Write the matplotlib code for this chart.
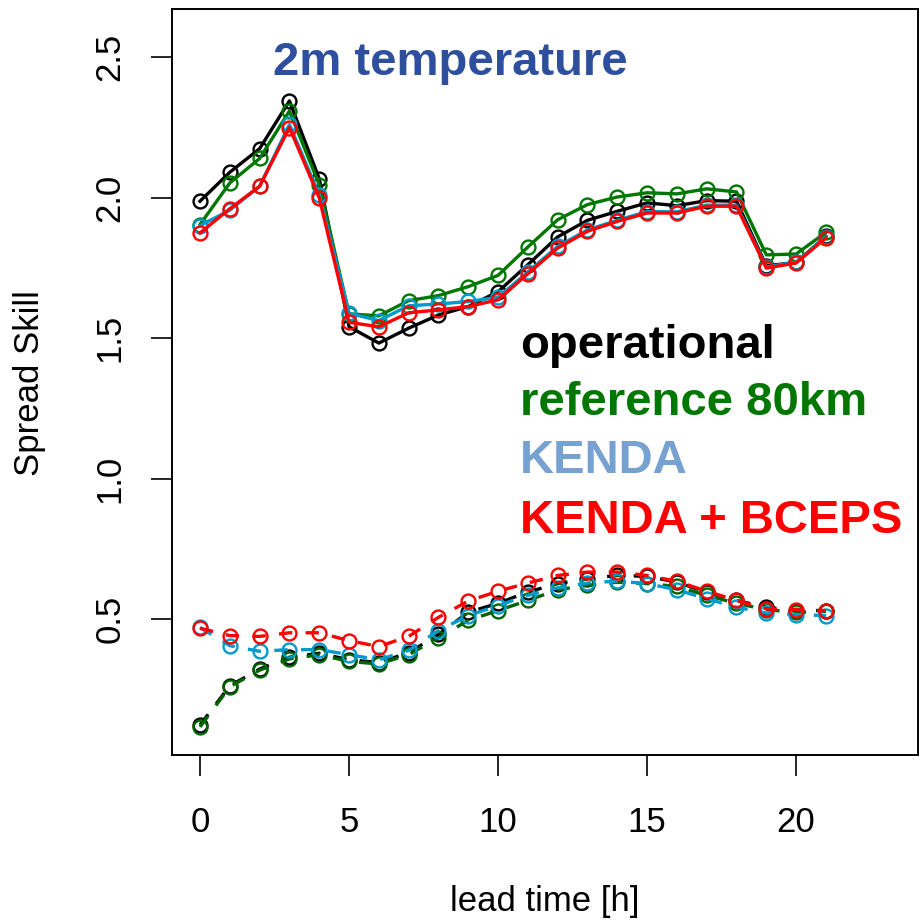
import numpy as np
import matplotlib
matplotlib.use("Agg")
import matplotlib.pyplot as plt

plt.rcParams['font.family'] = ['Liberation Sans', 'DejaVu Sans']

# lead time [h]
lead = list(range(22))

# spread skill, upper curves (solid)
op_hi = [1.987, 2.090, 2.174, 2.344, 2.067, 1.540, 1.482, 1.535, 1.582, 1.612, 1.665,
         1.761, 1.860, 1.919, 1.951, 1.981, 1.971, 1.989, 1.987, 1.757, 1.769, 1.862]
ref_hi = [1.904, 2.052, 2.139, 2.308, 2.046, 1.586, 1.579, 1.633, 1.651, 1.683, 1.723,
          1.824, 1.921, 1.975, 2.002, 2.017, 2.013, 2.031, 2.020, 1.796, 1.799, 1.876]
kenda_hi = [1.900, 1.955, 2.040, 2.260, 2.010, 1.588, 1.562, 1.615, 1.621, 1.630, 1.645,
            1.735, 1.826, 1.885, 1.919, 1.950, 1.949, 1.973, 1.973, 1.753, 1.770, 1.860]
bceps_hi = [1.874, 1.960, 2.040, 2.249, 1.999, 1.556, 1.540, 1.590, 1.600, 1.612, 1.636,
            1.729, 1.820, 1.880, 1.915, 1.945, 1.945, 1.969, 1.969, 1.749, 1.767, 1.856]

# lower curves (dashed)
op_lo = [0.123, 0.262, 0.322, 0.364, 0.378, 0.355, 0.345, 0.380, 0.445, 0.524, 0.556,
         0.596, 0.626, 0.643, 0.655, 0.652, 0.631, 0.596, 0.566, 0.542, 0.530, 0.530]
ref_lo = [0.116, 0.259, 0.318, 0.358, 0.373, 0.349, 0.340, 0.373, 0.433, 0.495, 0.530,
          0.566, 0.604, 0.620, 0.631, 0.626, 0.616, 0.584, 0.556, 0.533, 0.524, 0.527]
kenda_lo = [0.470, 0.405, 0.385, 0.391, 0.391, 0.373, 0.355, 0.388, 0.459, 0.512, 0.548,
            0.584, 0.611, 0.628, 0.635, 0.626, 0.604, 0.572, 0.542, 0.521, 0.516, 0.512]
bceps_lo = [0.467, 0.441, 0.438, 0.451, 0.451, 0.423, 0.402, 0.438, 0.506, 0.564, 0.599,
            0.628, 0.655, 0.667, 0.667, 0.655, 0.634, 0.599, 0.566, 0.536, 0.533, 0.530]

names = ["operational", "reference 80km", "KENDA", "KENDA + BCEPS"]
line_cols = ["black", "#007700", "#009ACD", "#FF0000"]
lo_cols = ["black", "#006400", "#009ACD", "#FF0000"]
text_cols = ["black", "#007700", "#77A1D0", "#FF0000"]

fig = plt.figure(figsize=(9.21, 9.22), dpi=100)
ax = fig.add_axes([172 / 921, 1 - 755 / 922, 746 / 921, 746 / 922])

his = [op_hi, ref_hi, kenda_hi, bceps_hi]
los = [op_lo, ref_lo, kenda_lo, bceps_lo]
for hi, lo, c, cl in zip(his, los, line_cols, lo_cols):
    ax.plot(lead, hi, color=c, lw=2.4, marker='o', ms=10, mfc='none', mew=1.7)
    ax.plot(lead, lo, color=cl, lw=2.4, ls=(0, (4, 4)), marker='o', ms=10,
            mfc='none', mew=1.7)

ax.set_xlim(-0.94, 24.09)
ax.set_ylim(0.016, 2.671)
ax.set_xticks([0, 5, 10, 15, 20])
ax.set_yticks([0.5, 1.0, 1.5, 2.0, 2.5])
ax.set_yticklabels(["0.5", "1.0", "1.5", "2.0", "2.5"], rotation=90, va='center')
ax.tick_params(axis='both', length=15, width=1.2, labelsize=25)
ax.tick_params(axis='x', pad=22)
ax.tick_params(axis='y', pad=18)
for s in ax.spines.values():
    s.set_linewidth(1.4)

ax.text(2.45, 2.436, "2m temperature", color="#2D4F9E", fontsize=34,
        fontweight='bold', va='baseline')
ybase = [1.429, 1.225, 1.018, 0.807]
for n, c, yb in zip(names, text_cols, ybase):
    ax.text(10.74, yb, n, color=c, fontsize=34, fontweight='bold', va='baseline')

fig.text(545 / 921, 1 - 901 / 922, "lead time [h]", fontsize=25, ha='center', va='center')
fig.text(30 / 921, 1 - 383 / 922, "Spread Skill", fontsize=25, ha='center', va='center',
         rotation=90)

fig.savefig("out.png", dpi=100)
